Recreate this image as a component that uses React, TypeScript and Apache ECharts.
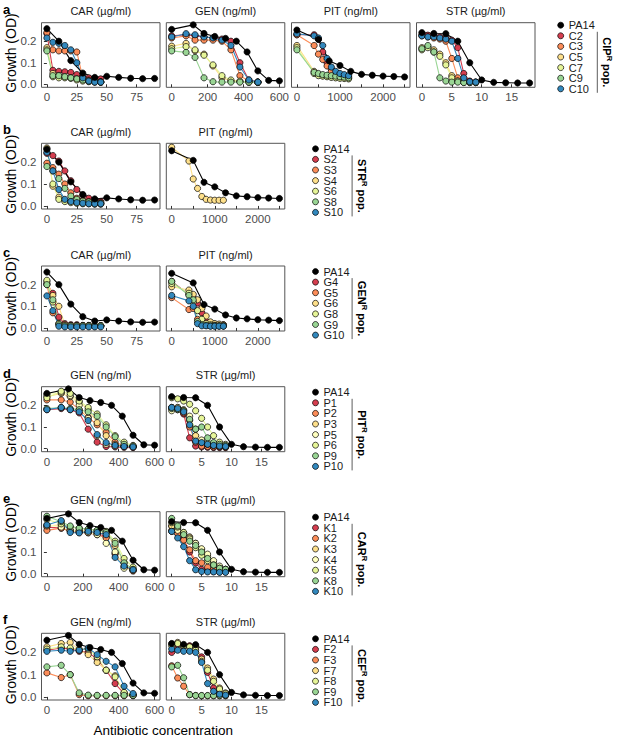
import React, { useEffect, useRef } from "react";
import * as echarts from "echarts";

// ---------- concentrations ----------
const CAR_PA14_CONC = [0, 10, 20, 30, 40, 50, 60, 70, 80, 90];
const CAR_RES_CONC = [0, 5, 10, 15, 20, 25, 30, 35, 40, 45];
const GEN_PA14_CONC = [0, 120, 180, 240, 300, 360, 420, 480, 540, 600];
const GEN_RES_CONC = [0, 80, 130, 180, 230, 280, 330, 380, 430, 480];
const PIT_PA14_CONC = [0, 500, 750, 1000, 1250, 1500, 1750, 2000, 2250, 2500];
const PIT_RES_CONC = [0, 400, 500, 600, 700, 800, 900, 1000, 1100, 1200];
const STR_PA14_CONC = [0, 2, 4, 6, 8, 10, 12, 14, 16, 18];
const STR_RES_CONC = [0, 1, 2, 3, 4, 5, 6, 7, 8, 9];

// ---------- PA14 (ancestor) ----------
const PA14_CAR = [0.258, 0.2, 0.11, 0.052, 0.032, 0.037, 0.032, 0.028, 0.026, 0.027];
const PA14_GEN = [0.255, 0.276, 0.236, 0.222, 0.213, 0.2, 0.15, 0.062, 0.018, 0.016];
const PA14_PIT = [0.252, 0.208, 0.108, 0.087, 0.06, 0.046, 0.042, 0.038, 0.036, 0.034];
const PA14_STR = [0.24, 0.236, 0.235, 0.2, 0.1, 0.02, 0.009, 0.007, 0.006, 0.006];

// ---------- a: CIP-resistant ----------
const A_NAMES = ["C2", "C3", "C5", "C7", "C9", "C10"];
const A_CAR = [
  [0.235, 0.065, 0.06, 0.058, 0.055, 0.045, 0.035, 0.03, 0.028, 0.025],
  [0.24, 0.16, 0.155, 0.155, 0.155, 0.15, 0.03, 0.02, 0.015, 0.012],
  [0.17, 0.05, 0.04, 0.035, 0.03, 0.025, 0.02, 0.015, 0.012, 0.01],
  [0.16, 0.035, 0.03, 0.03, 0.028, 0.02, 0.015, 0.012, 0.01, 0.01],
  [0.155, 0.04, 0.04, 0.035, 0.03, 0.025, 0.02, 0.015, 0.012, 0.01],
  [0.215, 0.195, 0.19, 0.18, 0.16, 0.1, 0.03, 0.015, 0.01, 0.01],
];
const A_GEN = [
  [0.225, 0.23, 0.225, 0.22, 0.215, 0.21, 0.2, 0.1, 0.02, 0.01],
  [0.215, 0.225, 0.205, 0.205, 0.205, 0.2, 0.16, 0.04, 0.015, 0.01],
  [0.177, 0.19, 0.155, 0.14, 0.085, 0.03, 0.015, 0.012, 0.01, 0.01],
  [0.165, 0.175, 0.16, 0.135, 0.09, 0.04, 0.02, 0.015, 0.01, 0.01],
  [0.155, 0.148, 0.125, 0.03, 0.012, 0.01, 0.01, 0.01, 0.01, 0.008],
  [0.22, 0.235, 0.23, 0.22, 0.215, 0.205, 0.18, 0.08, 0.02, 0.01],
];
const A_PIT = [
  [0.23, 0.23, 0.21, 0.15, 0.1, 0.07, 0.055, 0.045, 0.04, 0.035],
  [0.23, 0.18, 0.14, 0.115, 0.085, 0.06, 0.045, 0.035, 0.03, 0.03],
  [0.18, 0.06, 0.045, 0.04, 0.038, 0.035, 0.032, 0.03, 0.03, 0.028],
  [0.17, 0.05, 0.04, 0.038, 0.035, 0.032, 0.03, 0.028, 0.027, 0.025],
  [0.16, 0.055, 0.05, 0.045, 0.042, 0.04, 0.038, 0.035, 0.033, 0.03],
  [0.235, 0.225, 0.215, 0.18, 0.12, 0.08, 0.06, 0.05, 0.045, 0.04],
];
const A_STR = [
  [0.23, 0.228, 0.225, 0.22, 0.215, 0.205, 0.17, 0.05, 0.015, 0.01],
  [0.225, 0.22, 0.215, 0.21, 0.2, 0.12, 0.03, 0.012, 0.01, 0.01],
  [0.17, 0.175, 0.16, 0.14, 0.1, 0.04, 0.015, 0.01, 0.01, 0.008],
  [0.16, 0.17, 0.15, 0.13, 0.09, 0.03, 0.015, 0.01, 0.008, 0.008],
  [0.165, 0.18, 0.15, 0.03, 0.015, 0.01, 0.01, 0.008, 0.008, 0.008],
  [0.225, 0.22, 0.22, 0.215, 0.21, 0.2, 0.12, 0.03, 0.012, 0.01],
];

// ---------- b: STR-resistant ----------
const B_NAMES = ["S2", "S3", "S4", "S6", "S8", "S10"];
const B_CAR = [
  [0.24, 0.23, 0.205, 0.16, 0.115, 0.075, 0.05, 0.035, 0.025, 0.02],
  [0.195, 0.175, 0.145, 0.1, 0.06, 0.035, 0.025, 0.02, 0.018, 0.015],
  [0.265, 0.09, 0.04, 0.025, 0.02, 0.018, 0.015, 0.012, 0.01, 0.01],
  [0.26, 0.1, 0.03, 0.02, 0.015, 0.012, 0.01, 0.01, 0.008, 0.008],
  [0.18, 0.16, 0.125, 0.08, 0.045, 0.03, 0.022, 0.018, 0.015, 0.012],
  [0.245, 0.16, 0.075, 0.03, 0.02, 0.015, 0.012, 0.01, 0.01, 0.01],
];
const B_PIT_S4 = [0.268, 0.205, 0.123, 0.08, 0.043, 0.03, 0.027, 0.026, 0.026, 0.026];

// ---------- c: GEN-resistant ----------
const C_NAMES = ["G4", "G5", "G6", "G8", "G9", "G10"];
const C_CAR = [
  [0.205, 0.16, 0.05, 0.02, 0.015, 0.015, 0.012, 0.012, 0.01, 0.01],
  [0.2, 0.07, 0.02, 0.012, 0.01, 0.01, 0.01, 0.01, 0.01, 0.01],
  [0.215, 0.15, 0.1, 0.015, 0.01, 0.01, 0.01, 0.01, 0.01, 0.01],
  [0.22, 0.12, 0.02, 0.01, 0.01, 0.01, 0.01, 0.01, 0.01, 0.01],
  [0.2, 0.13, 0.015, 0.01, 0.01, 0.01, 0.01, 0.01, 0.01, 0.01],
  [0.148, 0.08, 0.008, 0.005, 0.005, 0.005, 0.005, 0.005, 0.005, 0.005],
];
const C_PIT = [
  [0.215, 0.155, 0.14, 0.115, 0.07, 0.03, 0.02, 0.018, 0.015, 0.015],
  [0.14, 0.085, 0.09, 0.04, 0.02, 0.015, 0.012, 0.012, 0.01, 0.01],
  [0.19, 0.175, 0.155, 0.13, 0.09, 0.055, 0.028, 0.02, 0.018, 0.015],
  [0.205, 0.16, 0.12, 0.08, 0.04, 0.02, 0.015, 0.012, 0.01, 0.01],
  [0.215, 0.15, 0.13, 0.03, 0.015, 0.012, 0.01, 0.01, 0.01, 0.01],
  [0.15, 0.125, 0.1, 0.02, 0.01, 0.01, 0.008, 0.008, 0.008, 0.008],
];

// ---------- d: PIT-resistant ----------
const D_NAMES = ["P1", "P2", "P3", "P5", "P6", "P9", "P10"];
const D_GEN = [
  [0.18, 0.185, 0.18, 0.165, 0.09, 0.03, 0.01, 0.008, 0.006, 0.005],
  [0.225, 0.225, 0.215, 0.18, 0.145, 0.11, 0.075, 0.03, 0.012, 0.01],
  [0.24, 0.255, 0.24, 0.215, 0.18, 0.12, 0.06, 0.02, 0.012, 0.01],
  [0.25, 0.26, 0.245, 0.2, 0.14, 0.06, 0.02, 0.012, 0.01, 0.008],
  [0.235, 0.265, 0.255, 0.22, 0.19, 0.16, 0.11, 0.06, 0.03, 0.015],
  [0.185, 0.19, 0.185, 0.18, 0.17, 0.15, 0.1, 0.055, 0.02, 0.012],
  [0.18, 0.19, 0.18, 0.17, 0.13, 0.065, 0.028, 0.015, 0.01, 0.008],
];
const D_STR = [
  [0.19, 0.185, 0.16, 0.05, 0.012, 0.008, 0.006, 0.005, 0.005, 0.005],
  [0.185, 0.18, 0.165, 0.1, 0.03, 0.012, 0.01, 0.008, 0.008, 0.006],
  [0.19, 0.19, 0.18, 0.13, 0.06, 0.03, 0.02, 0.015, 0.012, 0.01],
  [0.175, 0.19, 0.175, 0.15, 0.09, 0.04, 0.025, 0.02, 0.015, 0.012],
  [0.235, 0.23, 0.22, 0.205, 0.175, 0.14, 0.1, 0.06, 0.03, 0.02],
  [0.185, 0.18, 0.175, 0.135, 0.09, 0.1, 0.05, 0.028, 0.02, 0.015],
  [0.19, 0.185, 0.17, 0.11, 0.035, 0.028, 0.02, 0.015, 0.012, 0.01],
];

// ---------- e: CAR-resistant ----------
const E_NAMES = ["K1", "K2", "K3", "K4", "K5", "K8", "K10"];
const E_GEN = [
  [0.215, 0.21, 0.2, 0.195, 0.19, 0.185, 0.17, 0.09, 0.03, 0.015],
  [0.2, 0.21, 0.195, 0.19, 0.188, 0.18, 0.165, 0.095, 0.035, 0.012],
  [0.22, 0.225, 0.2, 0.2, 0.195, 0.19, 0.185, 0.13, 0.05, 0.02],
  [0.225, 0.215, 0.2, 0.195, 0.19, 0.18, 0.14, 0.1, 0.025, 0.015],
  [0.25, 0.23, 0.215, 0.21, 0.205, 0.2, 0.195, 0.15, 0.07, 0.03],
  [0.265, 0.24, 0.22, 0.21, 0.205, 0.2, 0.19, 0.14, 0.05, 0.02],
  [0.225, 0.245, 0.19, 0.188, 0.195, 0.19, 0.18, 0.075, 0.035, 0.018],
];
const E_STR = [
  [0.22, 0.2, 0.16, 0.1, 0.05, 0.02, 0.012, 0.01, 0.008, 0.008],
  [0.2, 0.185, 0.155, 0.11, 0.06, 0.05, 0.03, 0.02, 0.015, 0.01],
  [0.22, 0.21, 0.19, 0.17, 0.14, 0.11, 0.08, 0.05, 0.03, 0.02],
  [0.195, 0.2, 0.185, 0.165, 0.14, 0.115, 0.09, 0.06, 0.035, 0.02],
  [0.235, 0.215, 0.19, 0.16, 0.12, 0.085, 0.06, 0.04, 0.025, 0.018],
  [0.255, 0.22, 0.18, 0.15, 0.13, 0.1, 0.07, 0.04, 0.025, 0.02],
  [0.195, 0.165, 0.125, 0.06, 0.018, 0.01, 0.008, 0.008, 0.006, 0.006],
];

// ---------- f: CEF-resistant ----------
const F_NAMES = ["F2", "F3", "F7", "F8", "F9", "F10"];
const F_GEN = [
  [0.21, 0.22, 0.215, 0.205, 0.2, 0.17, 0.12, 0.06, 0.015, 0.01],
  [0.108, 0.087, 0.1, 0.01, 0.005, 0.005, 0.005, 0.005, 0.005, 0.005],
  [0.225, 0.24, 0.245, 0.21, 0.19, 0.155, 0.12, 0.095, 0.018, 0.008],
  [0.215, 0.225, 0.22, 0.215, 0.215, 0.18, 0.12, 0.09, 0.02, 0.008],
  [0.135, 0.142, 0.1, 0.018, 0.008, 0.007, 0.007, 0.007, 0.007, 0.007],
  [0.205, 0.21, 0.205, 0.21, 0.22, 0.19, 0.16, 0.135, 0.048, 0.015],
];
const F_STR = [
  [0.2, 0.235, 0.225, 0.23, 0.22, 0.18, 0.11, 0.04, 0.018, 0.01],
  [0.14, 0.085, 0.048, 0.01, 0.006, 0.005, 0.005, 0.005, 0.005, 0.005],
  [0.238, 0.245, 0.228, 0.225, 0.23, 0.17, 0.13, 0.08, 0.04, 0.018],
  [0.23, 0.24, 0.23, 0.225, 0.21, 0.16, 0.12, 0.07, 0.035, 0.015],
  [0.135, 0.142, 0.086, 0.01, 0.006, 0.006, 0.006, 0.006, 0.006, 0.006],
  [0.215, 0.21, 0.205, 0.205, 0.2, 0.155, 0.06, 0.025, 0.012, 0.008],
];

// ---------- palettes ----------
const PAL6 = ["#D53E4F", "#FC8D59", "#FEE08B", "#E6F598", "#99D594", "#3288BD"];
const PAL7 = ["#D53E4F", "#FC8D59", "#FEE08B", "#FFFFBF", "#E6F598", "#99D594", "#3288BD"];

const FONT = "'Liberation Sans', Arial, Helvetica, sans-serif";

type AbKey = "CAR" | "GEN" | "PIT" | "STR";
const AB: Record<AbKey, any> = {
  CAR: { title: "CAR (µg/ml)", min: -4.5, max: 94.5, labels: [0, 25, 50, 75], ticks: [0, 25, 50, 75], pa14Conc: CAR_PA14_CONC, resConc: CAR_RES_CONC, pa14: PA14_CAR },
  GEN: { title: "GEN (ng/ml)", min: -30, max: 630, labels: [0, 200, 400, 600], ticks: [0, 200, 400, 600], pa14Conc: GEN_PA14_CONC, resConc: GEN_RES_CONC, pa14: PA14_GEN },
  PIT: { title: "PIT (ng/ml)", min: -125, max: 2625, labels: [0, 1000, 2000], ticks: [0, 500, 1000, 1500, 2000, 2500], pa14Conc: PIT_PA14_CONC, resConc: PIT_RES_CONC, pa14: PA14_PIT },
  STR: { title: "STR (µg/ml)", min: -0.9, max: 18.9, labels: [0, 5, 10, 15], ticks: [0, 5, 10, 15], pa14Conc: STR_PA14_CONC, resConc: STR_RES_CONC, pa14: PA14_STR },
};

type Panel = { ab: AbKey; data: (number[] | null)[] };
type Row = { letter: string; pop: string; names: string[]; pal: string[]; panels: Panel[] };

const ROWS: Row[] = [
  { letter: "a", pop: "CIP", names: A_NAMES, pal: PAL6, panels: [
    { ab: "CAR", data: A_CAR }, { ab: "GEN", data: A_GEN }, { ab: "PIT", data: A_PIT }, { ab: "STR", data: A_STR }] },
  { letter: "b", pop: "STR", names: B_NAMES, pal: PAL6, panels: [
    { ab: "CAR", data: B_CAR }, { ab: "PIT", data: [null, null, B_PIT_S4, null, null, null] }] },
  { letter: "c", pop: "GEN", names: C_NAMES, pal: PAL6, panels: [
    { ab: "CAR", data: C_CAR }, { ab: "PIT", data: C_PIT }] },
  { letter: "d", pop: "PIT", names: D_NAMES, pal: PAL7, panels: [
    { ab: "GEN", data: D_GEN }, { ab: "STR", data: D_STR }] },
  { letter: "e", pop: "CAR", names: E_NAMES, pal: PAL7, panels: [
    { ab: "GEN", data: E_GEN }, { ab: "STR", data: E_STR }] },
  { letter: "f", pop: "CEF", names: F_NAMES, pal: PAL6, panels: [
    { ab: "GEN", data: F_GEN }, { ab: "STR", data: F_STR }] },
];

// ---------- layout ----------
const ROW_TOPS = [22.7, 143.3, 266, 386.7, 511.7, 633.3];
const ROW_H = [64.6, 65.7, 65, 65, 65, 66.7];
const PANEL_LEFTS = [41.5, 166.3, 291.5, 416.5];
const PANEL_W = 118.5;
const Y_MIN = -0.014;
const Y_MAX = 0.286;

function buildOption() {
  const grid: any[] = [];
  const xAxis: any[] = [];
  const yAxis: any[] = [];
  const series: any[] = [];
  const graphic: any[] = [];

  ROWS.forEach((row, r) => {
    const top = ROW_TOPS[r];
    const h = ROW_H[r];
    row.panels.forEach((panel, p) => {
      const gi = grid.length;
      const ab = AB[panel.ab];
      const left = PANEL_LEFTS[p];
      grid.push({
        left, top, width: PANEL_W, height: h,
        show: true, borderColor: "#555", borderWidth: 1, backgroundColor: "transparent",
        containLabel: false, outerBoundsMode: "none",
      });
      xAxis.push({
        gridIndex: gi, type: "value", min: ab.min, max: ab.max,
        axisLine: { show: false },
        splitLine: { show: false },
        axisTick: { show: true, length: 3, lineStyle: { color: "#333", width: 1 }, customValues: ab.ticks },
        axisLabel: {
          show: true, customValues: ab.labels, color: "#4d4d4d", fontSize: 11.5, margin: 4, fontFamily: FONT, hideOverlap: false,
          formatter: (v: number) => String(Math.round(v)),
        },
      });
      yAxis.push({
        gridIndex: gi, type: "value", min: Y_MIN, max: Y_MAX,
        axisLine: { show: false },
        splitLine: { show: false },
        axisTick: { show: p === 0, length: 3, lineStyle: { color: "#333", width: 1 }, customValues: [0, 0.1, 0.2] },
        axisLabel: {
          show: p === 0, customValues: [0, 0.1, 0.2], color: "#4d4d4d", fontSize: 11.5, margin: 5, fontFamily: FONT,
          formatter: (v: number) => v.toFixed(1),
        },
      });
      const groups: { name: string; color: string; conc: number[]; vals: number[] }[] = [];
      panel.data.forEach((vals, i) => {
        if (vals) groups.push({ name: row.names[i], color: row.pal[i], conc: ab.resConc, vals });
      });
      groups.push({ name: "PA14", color: "#000000", conc: ab.pa14Conc, vals: ab.pa14 });
      groups.forEach((g) => {
        const data = g.conc.map((c, k) => [c, g.vals[k]]);
        series.push({
          type: "line", name: g.name, xAxisIndex: gi, yAxisIndex: gi, data,
          showSymbol: false, symbol: "none", z: 2,
          lineStyle: { color: g.color, width: 1.1 }, itemStyle: { color: g.color },
          silent: true,
        });
      });
      groups.forEach((g) => {
        const data = g.conc.map((c, k) => [c, g.vals[k]]);
        series.push({
          type: "scatter", name: g.name, xAxisIndex: gi, yAxisIndex: gi, data,
          symbol: "circle", symbolSize: 6.2, z: 3,
          itemStyle: { color: g.color, borderColor: "#000", borderWidth: 0.7, opacity: 1 },
          silent: true,
        });
      });
      graphic.push({
        type: "text", x: left + PANEL_W / 2, y: top - 11.5,
        style: { text: ab.title, fontSize: 11, fontFamily: FONT, fill: "#1a1a1a", align: "center", verticalAlign: "middle" },
      });
    });

    graphic.push({
      type: "text", x: 3, y: top - 13.5,
      style: { text: row.letter, fontSize: 13, fontWeight: "bold", fontFamily: FONT, fill: "#000", align: "left", verticalAlign: "middle" },
    });
    graphic.push({
      type: "text", x: 11, y: top + h / 2 - 2, rotation: Math.PI / 2,
      style: { text: "Growth (OD)", fontSize: 14, fontFamily: FONT, fill: "#000", align: "center", verticalAlign: "middle" },
    });

    const isA = r === 0;
    const dotX = isA ? 560.7 : 315.5;
    const firstY = isA ? top + 2.5 : top + 5.5;
    const gap = 10.6;
    const entries = [{ name: "PA14", color: "#000" }].concat(row.names.map((n, i) => ({ name: n, color: row.pal[i] })));
    entries.forEach((e, i) => {
      const y = firstY + i * gap;
      graphic.push({
        type: "circle", shape: { cx: dotX, cy: y, r: 3 },
        style: { fill: e.color, stroke: "#000", lineWidth: 0.7 },
      });
      graphic.push({
        type: "text", x: dotX + 8, y,
        style: { text: e.name, fontSize: 11, fontFamily: FONT, fill: "#1a1a1a", align: "left", verticalAlign: "middle" },
      });
    });
    const barX = dotX + 36.6;
    const barY1 = firstY + gap - 4;
    const barY2 = firstY + (entries.length - 1) * gap + 4;
    graphic.push({
      type: "line", shape: { x1: barX, y1: barY1, x2: barX, y2: barY2 },
      style: { stroke: "#333", lineWidth: 0.8 },
    });
    graphic.push({
      type: "text", x: barX + 10, y: (barY1 + barY2) / 2, rotation: -Math.PI / 2,
      style: {
        text: `{b|${row.pop}}{s|R}{b| pop.}`,
        align: "center", verticalAlign: "middle",
        rich: {
          b: { fontSize: 11, fontWeight: "bold", fontFamily: FONT, fill: "#000", lineHeight: 13 },
          s: { fontSize: 7.5, fontWeight: "bold", fontFamily: FONT, fill: "#000", verticalAlign: "top", lineHeight: 13 },
        },
      },
    });
  });

  graphic.push({
    type: "text", x: 163.3, y: 730,
    style: { text: "Antibiotic concentration", fontSize: 13.5, fontFamily: FONT, fill: "#000", align: "center", verticalAlign: "middle" },
  });

  return {
    animation: false,
    backgroundColor: "#fff",
    textStyle: { fontFamily: FONT },
    grid, xAxis, yAxis, series, graphic,
  };
}

export default function App() {
  const ref = useRef<HTMLDivElement>(null);
  useEffect(() => {
    document.body.style.margin = "0";
    if (!ref.current) return;
    const chart = echarts.init(ref.current, null, { renderer: "svg" });
    chart.setOption(buildOption() as any);
    return () => chart.dispose();
  }, []);
  return <div ref={ref} style={{ width: 617, height: 739 }} />;
}
